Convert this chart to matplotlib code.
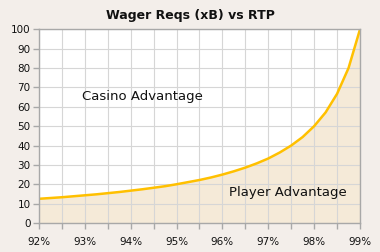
import matplotlib
matplotlib.use("Agg")
import matplotlib.pyplot as plt
from matplotlib.ticker import MultipleLocator, FuncFormatter

rtp = [92.0, 92.25, 92.5, 92.75, 93.0, 93.25, 93.5, 93.75, 94.0, 94.25, 94.5, 94.75,
       95.0, 95.25, 95.5, 95.75, 96.0, 96.25, 96.5, 96.75, 97.0, 97.25, 97.5, 97.75,
       98.0, 98.25, 98.5, 98.75, 99.0]
wager = [12.5, 12.9, 13.3, 13.8, 14.3, 14.8, 15.4, 16.0, 16.7, 17.4, 18.2, 19.0,
         20.0, 21.1, 22.2, 23.5, 25.0, 26.7, 28.6, 30.8, 33.3, 36.4, 40.0, 44.4,
         50.0, 57.1, 66.7, 80.0, 100.0]
title = "Wager Reqs (xB) vs RTP"
label_casino = "Casino Advantage"
label_player = "Player Advantage"

bg = "#F3EEEA"
fig = plt.figure(figsize=(3.8, 2.52), dpi=100, facecolor=bg)
ax = fig.add_axes([39/380, 1 - 223/252, (360-39)/380, (223-29.3)/252])
ax.set_facecolor("white")

ax.fill_between(rtp, wager, 0, color="#F5EAD8", zorder=1)
ax.plot(rtp, wager, color="#FFC000", lw=1.8, zorder=3, solid_capstyle="round")

ax.set_xlim(92, 99)
ax.set_ylim(0, 100)
ax.xaxis.set_major_locator(MultipleLocator(1))
ax.xaxis.set_minor_locator(MultipleLocator(0.5))
ax.yaxis.set_major_locator(MultipleLocator(10))
ax.xaxis.set_major_formatter(FuncFormatter(lambda v, p: f"{v:.0f}%"))
ax.grid(True, which="both", axis="x", color="#D6D6D6", lw=0.8, zorder=2)
ax.grid(True, which="major", axis="y", color="#D6D6D6", lw=0.8, zorder=2)
ax.set_axisbelow(False)
for s in ax.spines.values():
    s.set_color("#A8A8A8")
    s.set_linewidth(1.0)
    s.set_zorder(4)
ax.tick_params(axis="both", which="both", color="#A8A8A8", length=4, width=1,
               labelsize=7.5, labelcolor="#111111", pad=2)
ax.tick_params(axis="x", which="major", pad=6)

fig.text(190/380, 1 - 15/252, title, fontsize=9, fontweight="bold", color="#111111",
         ha="center", va="center")
ax.text(94.25, 65.3, label_casino, fontsize=9.5, ha="center", va="center", color="#111111", zorder=5)
ax.text(97.42, 15.5, label_player, fontsize=9.5, ha="center", va="center", color="#111111", zorder=5)

fig.savefig("out.png", dpi=100, facecolor=bg)
